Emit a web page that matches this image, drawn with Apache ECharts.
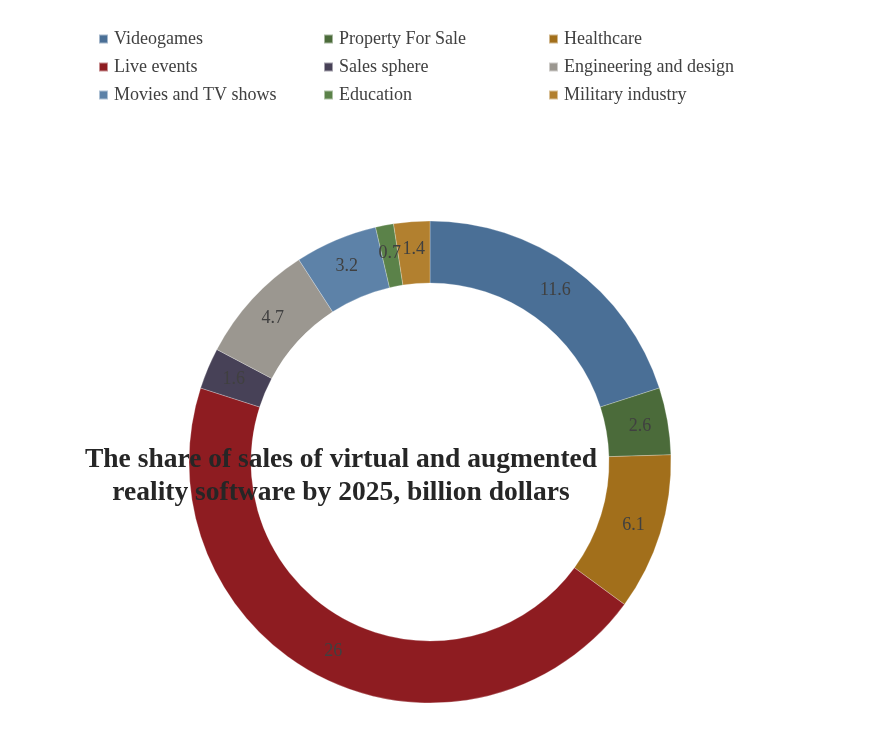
<!DOCTYPE html>
<html><head><meta charset="utf-8">
<script src="https://cdn.jsdelivr.net/npm/echarts@6/dist/echarts.min.js"></script>
<style>html,body{margin:0;padding:0;background:#fff}#c{width:869px;height:737px}</style>
</head><body><div id="c"></div>
<script>
const categories = ['Videogames','Property For Sale','Healthcare','Live events','Sales sphere','Engineering and design','Movies and TV shows','Education','Military industry'];
const values = [11.6, 2.6, 6.1, 26, 1.6, 4.7, 3.2, 0.7, 1.4];
const colors = ['#4a6f96','#4b6b3a','#a26f1b','#8e1c21','#474157','#9b9790','#5d82a8','#5b8249','#b2802f'];
const titleText = 'The share of sales of virtual and augmented\nreality software by 2025, billion dollars';
const legendCols = [
  ['Videogames','Live events','Movies and TV shows'],
  ['Property For Sale','Sales sphere','Education'],
  ['Healthcare','Engineering and design','Military industry']
];
const font = 'Liberation Serif, DejaVu Serif, serif';
const chart = echarts.init(document.getElementById('c'));
const legendLefts = [98, 323, 548];
chart.setOption({
  animation: false,
  color: colors,
  title: {
    text: titleText, left: 336, top: 438, textAlign: 'center',
    textStyle: {fontFamily: font, fontSize: 27.5, fontWeight: 'bold', color: '#262626', lineHeight: 33}
  },
  legend: legendCols.map((d, i) => ({
    data: d, orient: 'vertical', left: legendLefts[i], top: 30, padding: 0,
    itemWidth: 9, itemHeight: 9, itemGap: 10, icon: 'rect',
    textStyle: {fontFamily: font, fontSize: 18, color: '#404040', padding: [0,0,0,1]}
  })),
  series: [{
    type: 'pie', radius: [179, 241], center: [430, 462], startAngle: 90, clockwise: true,
    avoidLabelOverlap: false,
    itemStyle: {borderColor: 'rgba(255,255,255,0.5)', borderWidth: 0.5},
    label: {position: 'inside', formatter: '{c}', fontFamily: font, fontSize: 18, color: '#404040'},
    labelLine: {show: false},
    data: categories.map((c, i) => ({name: c, value: values[i]}))
  }]
});
</script></body></html>
